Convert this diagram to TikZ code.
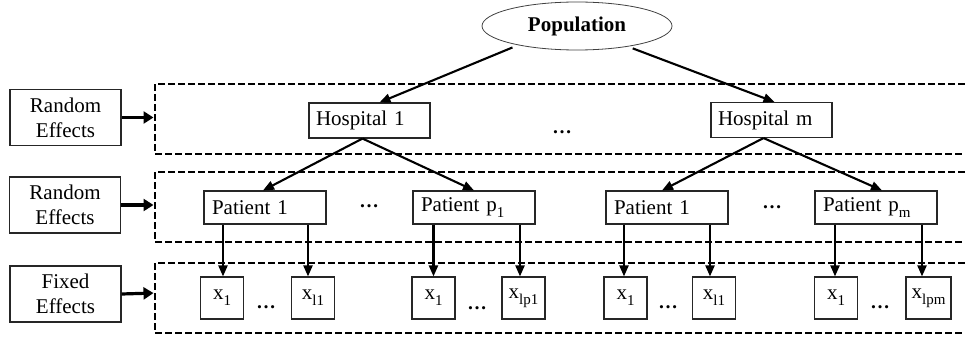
\documentclass[tikz,border=0pt]{standalone}
\usepackage{fontspec}
\setmainfont{Liberation Serif}
\usetikzlibrary{arrows.meta,shapes.geometric}
\newcommand{\sbs}[1]{\raisebox{-0.28em}{\fontsize{15}{15}\selectfont #1}}
\begin{document}
\begin{tikzpicture}[x=1pt,y=-1pt,
  every node/.style={font=\fontsize{21}{25}\selectfont},
  lbl/.style={draw=black!85,line width=1.1pt,minimum width=111pt,minimum height=56pt,inner sep=0pt,align=center},
  hosp/.style={draw=black!85,line width=1.1pt,minimum height=35pt,inner xsep=7pt,inner ysep=0pt,text width=107pt,align=left},
  pat/.style={draw=black!85,line width=1.1pt,minimum height=33pt,inner xsep=8pt,inner ysep=0pt,text width=106pt,align=left},
  xbox/.style={draw=black!85,line width=1.1pt,minimum width=43pt,minimum height=42pt,inner sep=0pt},
  frame/.style={line width=2.2pt,dash pattern=on 7pt off 3pt},
  conn/.style={line width=2.1pt,-{Triangle[length=11pt,width=9pt]}},
  big/.style={line width=3.2pt,-{Triangle[length=10pt,width=12pt]}},
  dotsn/.style={font=\fontsize{19.5}{25}\selectfont\bfseries,inner sep=0pt}
]
\clip (0,0) rectangle (965,337);

% dashed frames (open to the right)
\draw[frame] (975,84) -| (155,154) -- (975,154);
\draw[frame] (975,172) -| (155,242) -- (975,242);
\draw[frame] (975,263) -| (155,333) -- (975,333);
\coordinate (f1) at (155,117.5);
\coordinate (f2) at (155,205);
\coordinate (f3) at (155,293);

% level labels
\node[lbl] (re1) at (65.5,117.5) {Random\\Effects};
\node[lbl] (re2) at (65,205) {Random\\Effects};
\node[lbl] (fe)  at (65.5,294) {Fixed\\Effects};
\draw[big,shorten >=1.5pt] (re1.east) -- (f1);
\draw[big,shorten >=1.5pt] (re2.east) -- (f2);
\draw[big,shorten >=1.5pt] (fe.east) -- (f3);

% population
\node[draw=black!75,line width=0.8pt,ellipse,minimum width=190pt,minimum height=48pt,inner sep=0pt,
      font=\fontsize{21}{22}\selectfont\bfseries] (pop) at (577,26) {Population};

% hospitals
\node[hosp] (h1) at (369.5,120.5) {Hospital 1};
\node[hosp] (hm) at (771.5,120) {Hospital m};
\node[dotsn] (d0) at (562,132) {…};

% patients
\node[pat] (p1a) at (265,207.5) {Patient 1};
\node[pat] (p1b) at (474,207.5) {Patient p\sbs{1}};
\node[pat] (p2a) at (667,207.5) {Patient 1};
\node[pat] (p2b) at (876,207.5) {Patient p\sbs{m}};
\node[dotsn] (d1) at (369,206) {…};
\node[dotsn] (d2) at (772,207) {…};

% fixed effects
\node[xbox] (xa) at (222,298) {x\sbs{1}};
\node[xbox] (xb) at (313,298) {x\sbs{l1}};
\node[xbox] (xc) at (433.5,298) {x\sbs{1}};
\node[xbox] (xd) at (523.5,298) {x\sbs{lp1}};
\node[xbox] (xe) at (625.5,298) {x\sbs{1}};
\node[xbox] (xf) at (714,298) {x\sbs{l1}};
\node[xbox] (xg) at (836,298) {x\sbs{1}};
\node[xbox,minimum width=45pt] (xh) at (928.5,298) {x\sbs{lpm}};
\node[dotsn] (d3) at (266,307) {…};
\node[dotsn] (d4) at (477,308) {…};
\node[dotsn] (d5) at (668,307) {…};
\node[dotsn] (d6) at (880,307) {…};

% population -> hospitals
\draw[conn,shorten <=6pt] (pop.198) -- ([xshift=10pt]h1.north);
\draw[conn,shorten <=5pt] (pop.338) -- ([xshift=3pt]hm.north);

% hospitals -> patients
\draw[conn] ([xshift=-7pt]h1.south) -- ([xshift=-2pt]p1a.north);
\draw[conn] ([xshift=-7pt]h1.south) -- (p1b.north);
\draw[conn] ([xshift=-8pt]hm.south) -- ([xshift=-5pt]p2a.north);
\draw[conn] ([xshift=-8pt]hm.south) -- ([xshift=6pt]p2b.north);

% patients -> fixed effects
\coordinate (ta) at ([xshift=1pt]xa.north);
\coordinate (tb) at ([xshift=-5pt]xb.north);
\coordinate (tc) at (xc.north);
\coordinate (td) at ([xshift=-3.5pt]xd.north);
\coordinate (te) at ([xshift=-1.5pt]xe.north);
\coordinate (tf) at ([xshift=-4pt]xf.north);
\coordinate (tg) at ([xshift=-1pt]xg.north);
\coordinate (th) at ([xshift=-6.5pt]xh.north);
\draw[conn] (p1a.south -| ta) -- (ta);
\draw[conn] (p1a.south -| tb) -- (tb);
\draw[conn] (p1b.south -| tc) -- (tc);
\draw[conn] (p1b.south -| td) -- (td);
\draw[conn] (p2a.south -| te) -- (te);
\draw[conn] (p2a.south -| tf) -- (tf);
\draw[conn] (p2b.south -| tg) -- (tg);
\draw[conn] (p2b.south -| th) -- (th);
\end{tikzpicture}
\end{document}
